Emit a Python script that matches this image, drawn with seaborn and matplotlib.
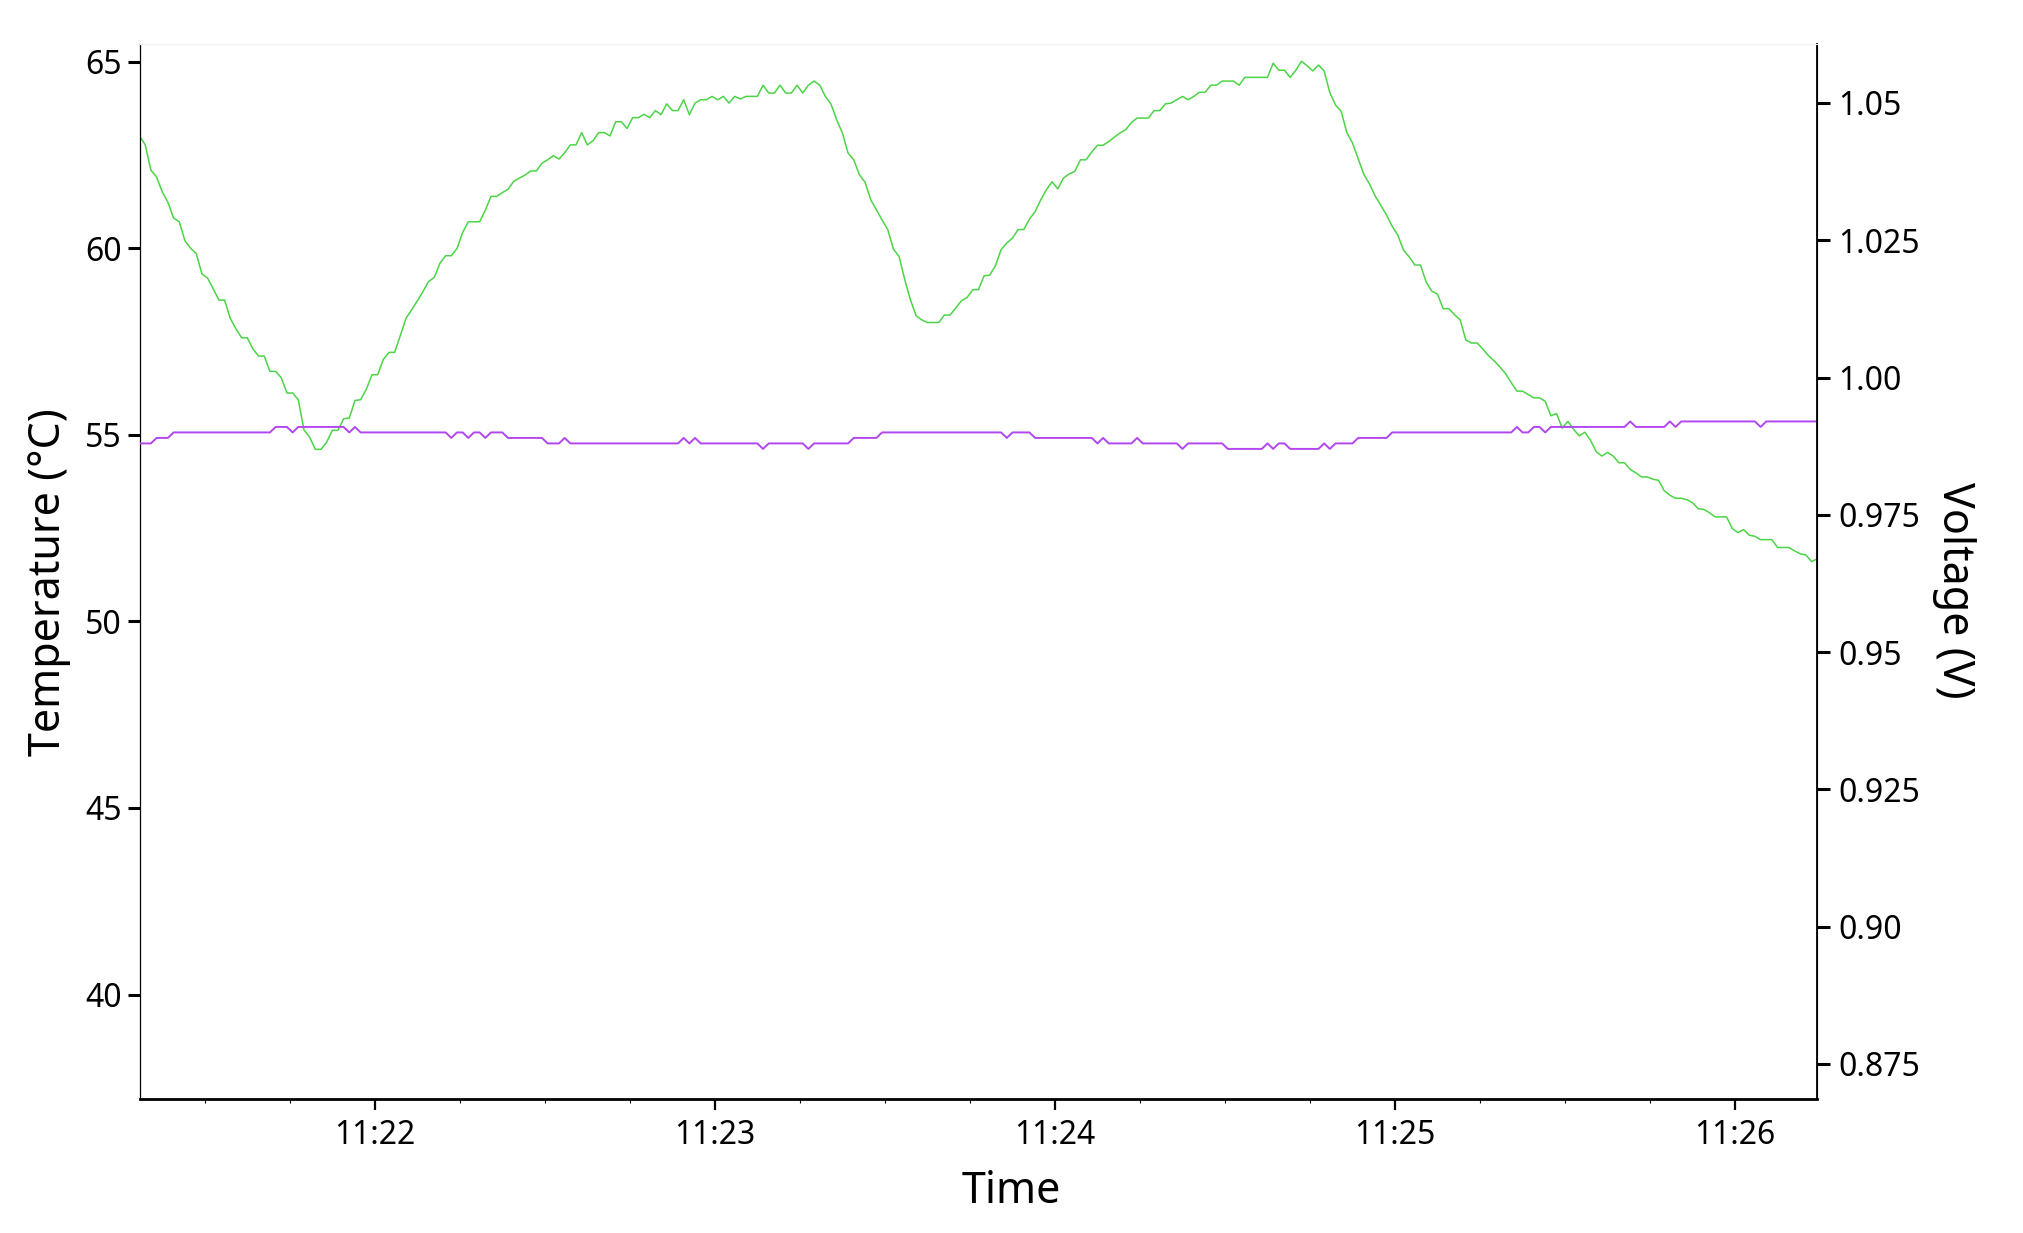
import matplotlib
matplotlib.use("Agg")
import matplotlib.pyplot as plt
import matplotlib.dates as mdates
import seaborn as sns
import pandas as pd
import numpy as np

# one sample per second
start_time = "2023-01-01 11:21:18.5"

temperature = [
    63.01, 62.77, 62.09, 61.91, 61.51, 61.23, 60.81, 60.71, 60.20, 60.00,
    59.86, 59.31, 59.20, 58.91, 58.61, 58.61, 58.12, 57.84, 57.60, 57.60,
    57.30, 57.11, 57.11, 56.70, 56.70, 56.53, 56.12, 56.12, 55.94, 55.13,
    54.94, 54.61, 54.61, 54.80, 55.12, 55.12, 55.43, 55.45, 55.92, 55.94,
    56.22, 56.61, 56.61, 57.02, 57.21, 57.21, 57.66, 58.12, 58.35, 58.59,
    58.84, 59.11, 59.22, 59.60, 59.80, 59.80, 59.99, 60.42, 60.71, 60.71,
    60.71, 61.02, 61.39, 61.39, 61.49, 61.58, 61.79, 61.88, 61.96, 62.07,
    62.07, 62.28, 62.37, 62.48, 62.39, 62.56, 62.77, 62.77, 63.10, 62.77,
    62.88, 63.10, 63.10, 63.01, 63.39, 63.39, 63.21, 63.50, 63.50, 63.59,
    63.50, 63.69, 63.58, 63.87, 63.69, 63.69, 63.98, 63.58, 63.89, 63.98,
    63.98, 64.07, 63.98, 64.07, 63.89, 64.07, 64.00, 64.07, 64.07, 64.07,
    64.37, 64.16, 64.16, 64.37, 64.16, 64.16, 64.37, 64.16, 64.37, 64.48,
    64.37, 64.07, 63.86, 63.44, 63.09, 62.55, 62.37, 61.97, 61.77, 61.30,
    61.03, 60.76, 60.50, 59.98, 59.78, 59.16, 58.62, 58.19, 58.08, 58.01,
    58.01, 58.01, 58.21, 58.21, 58.40, 58.59, 58.68, 58.89, 58.89, 59.26,
    59.28, 59.53, 59.96, 60.14, 60.27, 60.50, 60.50, 60.78, 60.98, 61.30,
    61.57, 61.78, 61.59, 61.88, 61.99, 62.06, 62.37, 62.37, 62.58, 62.76,
    62.76, 62.86, 62.98, 63.09, 63.18, 63.37, 63.49, 63.49, 63.49, 63.69,
    63.69, 63.87, 63.89, 63.98, 64.07, 63.98, 64.07, 64.18, 64.18, 64.37,
    64.37, 64.48, 64.48, 64.48, 64.37, 64.58, 64.58, 64.58, 64.58, 64.58,
    64.96, 64.77, 64.77, 64.58, 64.77, 65.01, 64.89, 64.75, 64.91, 64.75,
    64.17, 63.84, 63.67, 63.10, 62.82, 62.40, 61.98, 61.72, 61.40, 61.15,
    60.89, 60.59, 60.35, 59.95, 59.77, 59.55, 59.55, 59.09, 58.85, 58.77,
    58.38, 58.38, 58.22, 58.08, 57.54, 57.46, 57.46, 57.30, 57.12, 56.98,
    56.82, 56.64, 56.40, 56.17, 56.17, 56.08, 55.99, 55.99, 55.90, 55.51,
    55.57, 55.18, 55.36, 55.15, 54.97, 55.07, 54.85, 54.55, 54.43, 54.53,
    54.43, 54.25, 54.25, 54.07, 53.98, 53.87, 53.87, 53.81, 53.78, 53.50,
    53.38, 53.30, 53.30, 53.26, 53.18, 53.02, 53.00, 52.91, 52.80, 52.80,
    52.80, 52.49, 52.38, 52.46, 52.31, 52.28, 52.19, 52.19, 52.19, 51.98,
    51.98, 51.98, 51.89, 51.81, 51.78, 51.60, 51.68,
]

voltage = [
    0.988, 0.988, 0.988, 0.989, 0.989, 0.989, 0.990, 0.990, 0.990, 0.990,
    0.990, 0.990, 0.990, 0.990, 0.990, 0.990, 0.990, 0.990, 0.990, 0.990,
    0.990, 0.990, 0.990, 0.990, 0.991, 0.991, 0.991, 0.990, 0.991, 0.991,
    0.991, 0.991, 0.991, 0.991, 0.991, 0.991, 0.991, 0.990, 0.991, 0.990,
    0.990, 0.990, 0.990, 0.990, 0.990, 0.990, 0.990, 0.990, 0.990, 0.990,
    0.990, 0.990, 0.990, 0.990, 0.990, 0.989, 0.990, 0.990, 0.989, 0.990,
    0.990, 0.989, 0.990, 0.990, 0.990, 0.989, 0.989, 0.989, 0.989, 0.989,
    0.989, 0.989, 0.988, 0.988, 0.988, 0.989, 0.988, 0.988, 0.988, 0.988,
    0.988, 0.988, 0.988, 0.988, 0.988, 0.988, 0.988, 0.988, 0.988, 0.988,
    0.988, 0.988, 0.988, 0.988, 0.988, 0.988, 0.989, 0.988, 0.989, 0.988,
    0.988, 0.988, 0.988, 0.988, 0.988, 0.988, 0.988, 0.988, 0.988, 0.988,
    0.987, 0.988, 0.988, 0.988, 0.988, 0.988, 0.988, 0.988, 0.987, 0.988,
    0.988, 0.988, 0.988, 0.988, 0.988, 0.988, 0.989, 0.989, 0.989, 0.989,
    0.989, 0.990, 0.990, 0.990, 0.990, 0.990, 0.990, 0.990, 0.990, 0.990,
    0.990, 0.990, 0.990, 0.990, 0.990, 0.990, 0.990, 0.990, 0.990, 0.990,
    0.990, 0.990, 0.990, 0.989, 0.990, 0.990, 0.990, 0.990, 0.989, 0.989,
    0.989, 0.989, 0.989, 0.989, 0.989, 0.989, 0.989, 0.989, 0.989, 0.988,
    0.989, 0.988, 0.988, 0.988, 0.988, 0.988, 0.989, 0.988, 0.988, 0.988,
    0.988, 0.988, 0.988, 0.988, 0.987, 0.988, 0.988, 0.988, 0.988, 0.988,
    0.988, 0.988, 0.987, 0.987, 0.987, 0.987, 0.987, 0.987, 0.987, 0.988,
    0.987, 0.988, 0.988, 0.987, 0.987, 0.987, 0.987, 0.987, 0.987, 0.988,
    0.987, 0.988, 0.988, 0.988, 0.988, 0.989, 0.989, 0.989, 0.989, 0.989,
    0.989, 0.990, 0.990, 0.990, 0.990, 0.990, 0.990, 0.990, 0.990, 0.990,
    0.990, 0.990, 0.990, 0.990, 0.990, 0.990, 0.990, 0.990, 0.990, 0.990,
    0.990, 0.990, 0.990, 0.991, 0.990, 0.990, 0.991, 0.991, 0.990, 0.991,
    0.991, 0.991, 0.991, 0.991, 0.991, 0.991, 0.991, 0.991, 0.991, 0.991,
    0.991, 0.991, 0.991, 0.992, 0.991, 0.991, 0.991, 0.991, 0.991, 0.991,
    0.992, 0.991, 0.992, 0.992, 0.992, 0.992, 0.992, 0.992, 0.992, 0.992,
    0.992, 0.992, 0.992, 0.992, 0.992, 0.992, 0.991, 0.992, 0.992, 0.992,
    0.992, 0.992, 0.992, 0.992, 0.992, 0.992, 0.992,
]

temp_ticks = [40, 45, 50, 55, 60, 65]
volt_ticks = [0.875, 0.90, 0.925, 0.95, 0.975, 1.00, 1.025, 1.05]
volt_labels = ["0.875", "0.90", "0.925", "0.95", "0.975", "1.00", "1.025", "1.05"]

times = pd.date_range(start_time, periods=len(temperature), freq="1s")
df = pd.DataFrame({"time": times, "temperature": temperature, "voltage": voltage})

sns.set_style("white")
plt.rcParams["font.family"] = ["Noto Sans", "DejaVu Sans"]
plt.rcParams["text.color"] = "black"
plt.rcParams["axes.labelcolor"] = "black"
plt.rcParams["xtick.color"] = "black"
plt.rcParams["ytick.color"] = "black"

fig = plt.figure(figsize=(20.23, 12.33), dpi=100)
ax = fig.add_axes([0.069, 0.109, 0.8293, 0.8555])
ax2 = ax.twinx()

sns.lineplot(data=df, x="time", y="temperature", ax=ax, color="#4cd447", linewidth=1.1)
sns.lineplot(data=df, x="time", y="voltage", ax=ax2, color="#b347ef", linewidth=1.4)

ax.set_xlim(times[0], times[-1])
ax.set_ylim(37.21, 65.48)
ax2.set_ylim(0.86868, 1.06078)

ax.set_yticks(temp_ticks)
ax2.set_yticks(volt_ticks)
ax2.set_yticklabels(volt_labels)

ax.xaxis.set_major_locator(mdates.MinuteLocator())
ax.xaxis.set_minor_locator(mdates.SecondLocator(bysecond=[15, 30, 45]))
ax.xaxis.set_major_formatter(mdates.DateFormatter("%H:%M"))

for a in (ax, ax2):
    for s in a.spines.values():
        s.set_color("black")
    a.spines["top"].set_color("#f2f2f2")
    a.spines["top"].set_linewidth(0.8)

ax.spines["left"].set_linewidth(0.9)
ax.spines["bottom"].set_linewidth(2.0)
ax2.spines["right"].set_linewidth(1.3)
ax2.spines["left"].set_visible(False)
ax2.spines["bottom"].set_visible(False)

ax.tick_params(axis="y", which="major", left=True, length=9, width=2.2, labelsize=23, pad=4)
ax.tick_params(axis="x", which="major", bottom=True, length=8, width=1.6, labelsize=23, pad=7)
ax.tick_params(axis="x", which="minor", bottom=True, length=3, width=0.8)
ax2.tick_params(axis="y", which="major", right=True, length=9, width=2.2, labelsize=23, pad=6)

ax.set_xlabel("Time", fontsize=31)
ax.xaxis.set_label_coords(0.5197, -0.068)
ax.set_ylabel("Temperature (°C)", fontsize=31, labelpad=10)
ax.yaxis.label.set_y(0.49)
ax2.set_ylabel("Voltage (V)", fontsize=31, rotation=270, labelpad=40)
ax2.yaxis.label.set_y(0.482)

ax.grid(False)
ax2.grid(False)

fig.savefig("out.png", dpi=100)
